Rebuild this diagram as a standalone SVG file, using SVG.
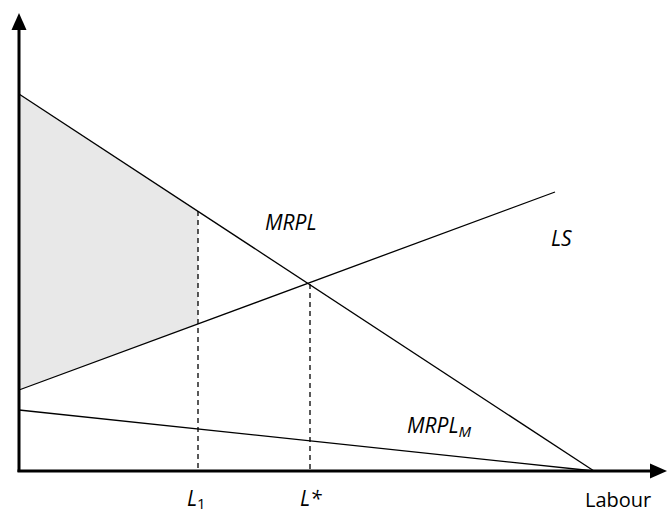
<svg xmlns="http://www.w3.org/2000/svg" width="667" height="513" viewBox="0 0 667 513">
<style>
.ln{stroke:#000;stroke-width:1.3;fill:none}
.ax{stroke:#000;stroke-width:3;fill:none}
.dash{stroke:#000;stroke-width:1.3;stroke-dasharray:5,4;fill:none}
.lbl{font-family:"Open Sans","Noto Sans",sans-serif;font-size:21px;font-style:italic;fill:#000}
.up{font-family:"Open Sans","Noto Sans",sans-serif;font-size:20px;fill:#000}
</style>
<rect width="667" height="513" fill="#fff"/>
<g id="shade"><polygon points="19,94 198,211 198,324 19,390" fill="#e8e8e8"/></g>
<g id="connectors">
<line class="ln" x1="19" y1="94" x2="594" y2="471"/>
<line class="ln" x1="19" y1="390" x2="555" y2="192"/>
<line class="ln" x1="19" y1="410" x2="594" y2="471"/>
<line class="dash" x1="198" y1="211" x2="198" y2="470"/>
<line class="dash" x1="310" y1="284" x2="310" y2="470"/>
</g>
<g id="axes">
<line class="ax" x1="19" y1="472" x2="19" y2="28"/>
<polygon points="19,13 11.5,30 26.5,30" fill="#000"/>
<line class="ax" x1="17.5" y1="471" x2="652" y2="471"/>
<polygon points="667,471 650,463.5 650,478.5" fill="#000"/>
</g>
<g id="labels">
<text class="lbl" x="265" y="230">MRPL</text>
<text class="lbl" x="551" y="246">LS</text>
<text class="lbl" x="407" y="433">MRPL<tspan font-size="15" dy="4">M</tspan></text>
<text class="lbl" x="187" y="506">L<tspan font-style="normal" font-size="15" dy="3">1</tspan></text>
<text class="lbl" x="300" y="506">L*</text>
<text class="up" x="585" y="507">Labour</text>
</g>
</svg>
